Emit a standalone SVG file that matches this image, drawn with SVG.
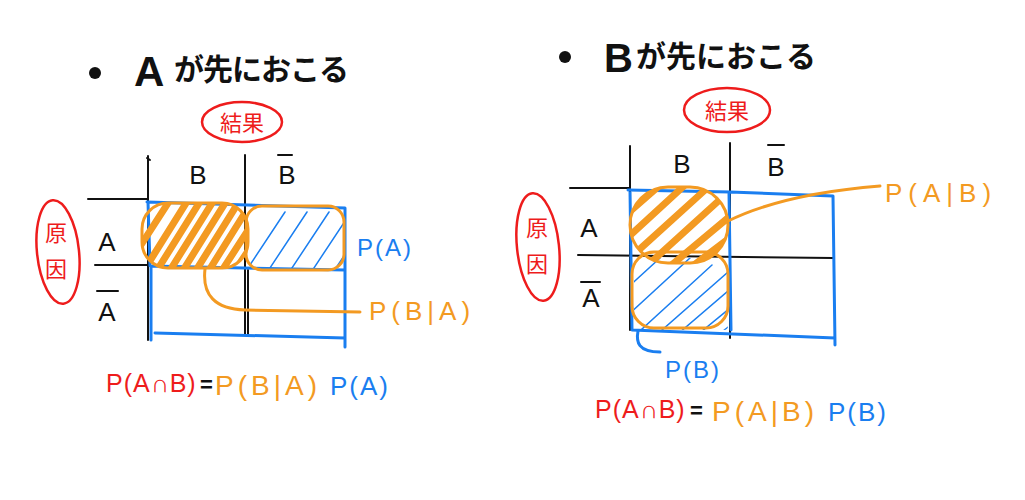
<svg xmlns="http://www.w3.org/2000/svg" width="1025" height="500" viewBox="0 0 1025 500">
<style>
.t{font-family:"Liberation Sans","Noto Sans CJK JP",sans-serif}
.jp{font-family:"Noto Sans CJK JP","Liberation Sans",sans-serif}
.blk{fill:#111}
.red{fill:#ee1c1c}
.org{fill:#f39a22}
.blu{fill:#1a7ef0}
.grid{stroke:#111;stroke-width:2;fill:none;stroke-linecap:round}
.bline{stroke:#1a7ef0;stroke-width:3;fill:none;stroke-linecap:round;stroke-linejoin:round}
.oline{stroke:#f39a22;stroke-width:3;fill:none;stroke-linecap:round;stroke-linejoin:round}
.ohatch{stroke:#f39a22;stroke-width:7;stroke-linecap:round}
.bhatch{stroke:#1a7ef0;stroke-width:1.5;stroke-linecap:round}
.rell{stroke:#ee1c1c;stroke-width:2.5;fill:none}
</style>
<defs>
<clipPath id="cL1"><rect x="142" y="203" width="106" height="65" rx="26"/></clipPath>
<clipPath id="cL2"><rect x="246" y="206" width="98" height="64" rx="16"/></clipPath>
<clipPath id="cR1"><rect x="630" y="187" width="98" height="76" rx="38"/></clipPath>
<clipPath id="cR2"><rect x="634" y="258" width="94" height="72" rx="4"/></clipPath>
</defs>
<rect width="1025" height="500" fill="#fff"/>

<g id="left-panel">
 <g id="left-title">
  <circle cx="95" cy="73" r="6" fill="#111"/>
  <text class="t blk" x="134" y="86" font-size="42" font-weight="bold">A</text>
  <text class="jp blk" x="174" y="80" font-size="30" font-weight="bold" letter-spacing="-1">が先におこる</text>
 </g>
 <g id="left-result">
  <ellipse class="rell" cx="242" cy="122" rx="40" ry="20"/>
  <text class="jp red" x="242" y="131" font-size="22" text-anchor="middle">結果</text>
 </g>
 <g id="left-cause">
  <ellipse class="rell" cx="58" cy="252" rx="21" ry="52" transform="rotate(-6 58 252)"/>
  <text class="jp red" x="56" y="241" font-size="22" text-anchor="middle">原</text>
  <text class="jp red" x="56" y="277" font-size="22" text-anchor="middle">因</text>
 </g>
 <g id="left-grid">
  <path class="grid" d="M148 156 V340 M245 155 V335 M88 199 H148 M95 265 H148 M248 270 V335"/>
  <path class="grid" d="M147 158 L150 160"/>
 </g>
 <g id="left-labels">
  <text class="t blk" x="198" y="184" font-size="26" text-anchor="middle">B</text>
  <text class="t blk" x="287" y="184" font-size="26" text-anchor="middle">B</text>
  <path class="grid" d="M278 155 H292"/>
  <text class="t blk" x="107" y="251" font-size="26" text-anchor="middle">A</text>
  <text class="t blk" x="107" y="321" font-size="26" text-anchor="middle">A</text>
  <path class="grid" d="M97 291 H118"/>
 </g>
 <g id="left-table">
  <path class="bline" d="M147 202 L345 208 L345 347 M148 202 L150 266 L345 270 M155 333 L345 338 M151 268 L151 340"/>
 </g>
 <g id="left-PBA-region">
  <g clip-path="url(#cL2)">
   <path class="bhatch" d="M240 280 L285 212 M262 280 L307 212 M284 280 L329 212 M306 280 L351 212 M328 280 L373 212"/>
  </g>
  <rect class="oline" x="246" y="206" width="98" height="64" rx="16"/>
  <g clip-path="url(#cL1)">
   <path class="ohatch" d="M130 262 L170 200 M143 272 L188 200 M156 272 L201 200 M169 272 L214 200 M182 272 L227 200 M195 272 L240 200 M208 272 L253 200 M221 272 L261 210 M234 272 L262 230"/>
  </g>
  <rect class="oline" x="142" y="203" width="106" height="65" rx="26"/>
 </g>
 <g id="left-pa">
  <text class="t blu" x="357" y="256" font-size="24" letter-spacing="2">P(A)</text>
 </g>
 <g id="left-pba">
  <path class="oline" d="M205 269 C202 295 215 309 245 310 L360 312"/>
  <text class="t org" x="369" y="320" font-size="26" letter-spacing="5">P(B|A)</text>
 </g>
 <g id="left-formula">
  <text class="t red" x="106" y="392" font-size="25" letter-spacing="1">P(A∩B)</text>
  <text class="t blk" x="200" y="392" font-size="22" font-weight="bold">=</text>
  <text class="t org" x="215" y="395" font-size="28" letter-spacing="4">P(B|A)</text>
  <text class="t blu" x="330" y="395" font-size="26" letter-spacing="2">P(A)</text>
 </g>
</g>

<g id="right-panel">
 <g id="right-title">
  <circle cx="565" cy="57" r="6" fill="#111"/>
  <text class="t blk" x="604" y="72" font-size="40" font-weight="bold">B</text>
  <text class="jp blk" x="636" y="67" font-size="30" font-weight="bold" letter-spacing="0">が先におこる</text>
 </g>
 <g id="right-result">
  <ellipse class="rell" cx="727" cy="110" rx="43" ry="22"/>
  <text class="jp red" x="727" y="119" font-size="22" text-anchor="middle">結果</text>
 </g>
 <g id="right-cause">
  <ellipse class="rell" cx="538" cy="247" rx="21" ry="54" transform="rotate(-6 538 247)"/>
  <text class="jp red" x="537" y="236" font-size="22" text-anchor="middle">原</text>
  <text class="jp red" x="537" y="272" font-size="22" text-anchor="middle">因</text>
 </g>
 <g id="right-grid">
  <path class="grid" d="M630 146 V330 M730 143 V338 M570 188 H630 M578 255 L833 258"/>
 </g>
 <g id="right-labels">
  <text class="t blk" x="682" y="173" font-size="26" text-anchor="middle">B</text>
  <text class="t blk" x="776" y="176" font-size="26" text-anchor="middle">B</text>
  <path class="grid" d="M768 145 H784"/>
  <text class="t blk" x="589" y="237" font-size="26" text-anchor="middle">A</text>
  <text class="t blk" x="591" y="307" font-size="26" text-anchor="middle">A</text>
  <path class="grid" d="M581 282 H600"/>
 </g>
 <g id="right-table">
  <path class="bline" d="M628 190 L730 192 L833 196 L835 345 M630 190 L632 330 L835 338 M729 192 L731 330"/>
 </g>
 <g id="right-PAB-region">
  <g clip-path="url(#cR2)">
   <path class="bhatch" d="M625 290 L660 258 M628 315 L690 258 M630 340 L712 265 M645 345 L728 272 M665 345 L735 285 M685 345 L740 300 M705 345 L740 318"/>
  </g>
  <rect class="oline" x="632" y="252" width="96" height="76" rx="22"/>
  <g clip-path="url(#cR1)">
   <path class="ohatch" d="M620 220 L660 185 M625 240 L685 185 M630 258 L705 190 M648 265 L725 195 M668 268 L735 212 M690 268 L740 230"/>
  </g>
  <rect class="oline" x="630" y="187" width="98" height="76" rx="38"/>
 </g>
 <g id="right-pab">
  <path class="oline" d="M726 222 C770 200 830 190 880 186"/>
  <text class="t org" x="885" y="202" font-size="26" letter-spacing="6">P(A|B)</text>
 </g>
 <g id="right-pb">
  <path class="bline" d="M638 331 C636 342 638 352 660 352"/>
  <text class="t blu" x="665" y="378" font-size="24" letter-spacing="2">P(B)</text>
 </g>
 <g id="right-formula">
  <text class="t red" x="595" y="418" font-size="25" letter-spacing="1">P(A∩B)</text>
  <text class="t blk" x="690" y="418" font-size="22" font-weight="bold">=</text>
  <text class="t org" x="712" y="421" font-size="28" letter-spacing="4">P(A|B)</text>
  <text class="t blu" x="828" y="421" font-size="26" letter-spacing="2">P(B)</text>
 </g>
</g>
</svg>
